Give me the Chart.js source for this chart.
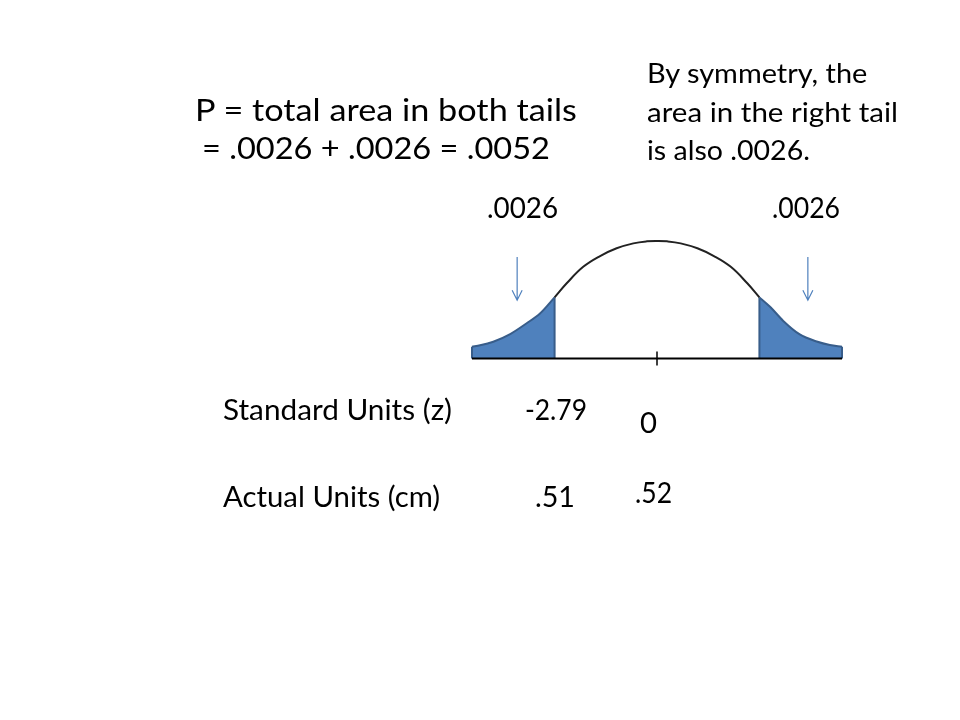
<!DOCTYPE html>
<html>
<head>
<meta charset="utf-8">
<script src="https://cdn.jsdelivr.net/npm/chart.js@4.4.1/dist/chart.umd.min.js"></script>
<style>
  html, body { margin: 0; padding: 0; background: #fff; }
  #wrap { position: relative; width: 960px; height: 720px; overflow: hidden; }
  #mycanvas { position: absolute; left: 0; top: 0; }
  .lbl { position: absolute; white-space: nowrap; color: #000; line-height: 1; font-family: Lato, "Open Sans", sans-serif; transform-origin: 0 0; }
</style>
</head>
<body>
<div id="wrap">
  <canvas id="mycanvas" width="960" height="720"></canvas>
</div>
<script>
// curve between the two cut-offs (standard units, height relative to the peak)
var curveX = [-2.79, -2.46, -2.01, -1.55, -1.10, -0.645, -0.28, 0, 0.28, 0.645, 1.10, 1.55, 2.01, 2.46, 2.79];
var curveY = [0.52, 0.64, 0.78, 0.872, 0.938, 0.98, 0.997, 1.0, 0.997, 0.98, 0.938, 0.872, 0.78, 0.64, 0.52];

// shaded tails
var leftTailX = [-5.04, -4.82, -4.46, -4.0, -3.55, -3.18, -2.79];
var leftTailY = [0.10, 0.112, 0.143, 0.208, 0.30, 0.385, 0.52];
var rightTailX = [2.79, 3.08, 3.44, 3.89, 4.35, 4.71, 5.04];
var rightTailY = [0.52, 0.44, 0.32, 0.205, 0.145, 0.115, 0.10];

// axis
var axisMin = -5.04;
var axisMax = 5.04;
var tickValues = [0];

// arrows pointing at the tails
var arrowX = [-3.81, 4.11];
var arrowTop = 0.863;
var arrowTip = 0.496;

// text (size in px, squeezed to the width it takes in the slide)
var labels = [
  { text: "P = total area in both tails", x: 195, base: 121, w: 383, size: 30 },
  { text: "= .0026 + .0026 = .0052", x: 202, base: 159, w: 348, size: 30 },
  { text: "By symmetry, the", x: 647, base: 83, w: 221, size: 27 },
  { text: "area in the right tail", x: 647, base: 122, w: 251, size: 27 },
  { text: "is also .0026.", x: 647, base: 160, w: 163, size: 27 },
  { text: ".0026", x: 487, base: 218, w: 71, size: 28 },
  { text: ".0026", x: 772, base: 218, w: 68, size: 28 },
  { text: "Standard Units (z)", x: 223, base: 420, w: 229, size: 28 },
  { text: "-2.79", x: 525, base: 420, w: 62, size: 28 },
  { text: "0", x: 640, base: 433, w: 17, size: 28 },
  { text: "Actual Units (cm)", x: 223, base: 507, w: 217, size: 28 },
  { text: ".51", x: 535, base: 507, w: 40, size: 28 },
  { text: ".52", x: 635, base: 503, w: 37, size: 28 }
];

function pts(xs, ys) {
  var out = [];
  for (var i = 0; i < xs.length; i++) out.push({ x: xs[i], y: ys[i] });
  return out;
}

function edges(xs, ys) {
  var n = xs.length - 1;
  return [
    { x: xs[0], y: 0 }, { x: xs[0], y: ys[0] },
    { x: xs[0], y: null },
    { x: xs[n], y: ys[n] }, { x: xs[n], y: 0 }
  ];
}

var tickData = [];
tickValues.forEach(function (v) {
  tickData.push({ x: v, y: -0.06 }, { x: v, y: 0.06 }, { x: v, y: null });
});

var arrowPlugin = {
  id: 'arrows',
  afterDatasetsDraw: function (chart) {
    var ctx = chart.ctx;
    var xs = chart.scales.x, ys = chart.scales.y;
    ctx.save();
    ctx.strokeStyle = '#4F81BD';
    ctx.lineWidth = 1.2;
    arrowX.forEach(function (v) {
      var px = xs.getPixelForValue(v);
      var y0 = ys.getPixelForValue(arrowTop);
      var y1 = ys.getPixelForValue(arrowTip);
      ctx.beginPath();
      ctx.moveTo(px, y0);
      ctx.lineTo(px, y1);
      ctx.moveTo(px - 5, y1 - 10);
      ctx.lineTo(px, y1);
      ctx.lineTo(px + 5, y1 - 10);
      ctx.stroke();
    });
    ctx.restore();
  }
};

var tailStyle = {
  backgroundColor: '#4F81BD',
  borderColor: '#385D8A',
  borderWidth: 2,
  fill: 'origin',
  cubicInterpolationMode: 'monotone',
  pointRadius: 0,
  showLine: true,
  clip: false
};

var ctx = document.getElementById('mycanvas');
var chart = new Chart(ctx, {
  type: 'scatter',
  data: {
    datasets: [
      { label: 'baseline', data: [{ x: axisMin, y: 0 }, { x: axisMax, y: 0 }], borderColor: '#000', borderWidth: 2, showLine: true, pointRadius: 0, clip: false },
      { label: 'tick', data: tickData, borderColor: '#000', borderWidth: 1.5, showLine: true, pointRadius: 0, spanGaps: false, clip: false },
      { label: 'curve', data: pts(curveX, curveY), borderColor: '#222', borderWidth: 2, showLine: true, pointRadius: 0, tension: 0.4, clip: false },
      { label: 'left edges', data: edges(leftTailX, leftTailY), borderColor: '#385D8A', borderWidth: 2, showLine: true, pointRadius: 0, spanGaps: false, clip: false },
      { label: 'right edges', data: edges(rightTailX, rightTailY), borderColor: '#385D8A', borderWidth: 2, showLine: true, pointRadius: 0, spanGaps: false, clip: false },
      Object.assign({ label: 'left tail', data: pts(leftTailX, leftTailY) }, tailStyle),
      Object.assign({ label: 'right tail', data: pts(rightTailX, rightTailY) }, tailStyle)
    ]
  },
  options: {
    responsive: false,
    animation: false,
    devicePixelRatio: 1,
    layout: { padding: { left: 472, right: 118, top: 217.5, bottom: 338 } },
    scales: {
      x: { type: 'linear', min: axisMin, max: axisMax, display: false },
      y: { type: 'linear', min: -0.2, max: 1.2, display: false }
    },
    plugins: { legend: { display: false }, tooltip: { enabled: false } }
  },
  plugins: [arrowPlugin]
});

// place the text
var wrap = document.getElementById('wrap');
var mctx = document.createElement('canvas').getContext('2d');
labels.forEach(function (l) {
  mctx.font = l.size + 'px Lato';
  var sx = l.w / mctx.measureText(l.text).width;
  var d = document.createElement('div');
  d.className = 'lbl';
  d.textContent = l.text;
  d.style.fontSize = l.size + 'px';
  d.style.left = l.x + 'px';
  d.style.top = (l.base - 0.887 * l.size).toFixed(1) + 'px';
  d.style.transform = 'scaleX(' + sx.toFixed(3) + ')';
  wrap.appendChild(d);
});
</script>
</body>
</html>
